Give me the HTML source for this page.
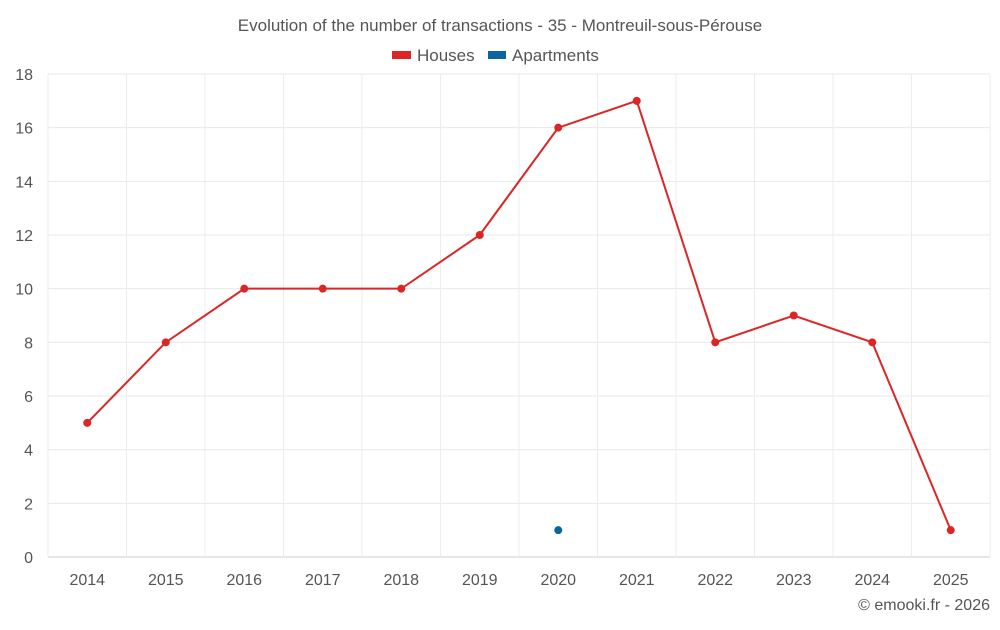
<!DOCTYPE html>
<html><head><meta charset="utf-8"><style>
body{margin:0;background:#fff;font-family:"Liberation Sans",sans-serif}
svg text{font-family:"Liberation Sans",sans-serif}
</style></head><body>
<svg id="c" width="1000" height="625"></svg>
<script>
const categories=["2014","2015","2016","2017","2018","2019","2020","2021","2022","2023","2024","2025"];
const houses=[5,8,10,10,10,12,16,17,8,9,8,1];
const apartments=[null,null,null,null,null,null,1,null,null,null,null,null];
const yTicks=[0,2,4,6,8,10,12,14,16,18];
const NS="http://www.w3.org/2000/svg";
const svg=document.getElementById('c');
const L=48,R=990,T=74,B=557,yMax=18;
const bw=(R-L)/categories.length;
const x=i=>L+bw*(i+0.5);
const y=v=>B-(v/yMax)*(B-T);
function mk(t,a,p){const e=document.createElementNS(NS,t);for(const k in a)e.setAttribute(k,a[k]);(p||svg).appendChild(e);return e;}
const title=mk('text',{x:500,y:31,'text-anchor':'middle','font-size':17,fill:'#555'});title.textContent="Evolution of the number of transactions - 35 - Montreuil-sous-Pérouse";


yTicks.forEach(v=>{
  const g=mk('line',{x1:L,x2:R,y1:y(v),y2:y(v),stroke:v===0?'#ccc':'#e8e8e8','stroke-width':1});
  
  
  const t=mk('text',{x:33,y:y(v)+6,'text-anchor':'end','font-size':16,fill:'#555'});t.textContent=v;
  
  
});
for(let i=0;i<=categories.length;i++){
  const g=mk('line',{x1:L+bw*i,x2:L+bw*i,y1:T,y2:B,stroke:'#ececec','stroke-width':1});
  
  
}
categories.forEach((c,i)=>{
  const t=mk('text',{x:x(i),y:585,'text-anchor':'middle','font-size':16,fill:'#555'});t.textContent=c;
  
  
});
const pl=mk('polyline',{points:houses.map((v,i)=>x(i)+','+y(v)).join(' '),fill:'none',stroke:'#dc2626','stroke-width':2});


houses.forEach((v,i)=>{const p=mk('circle',{cx:x(i),cy:y(v),r:4,fill:'#dc2626'});
  
  });
apartments.forEach((v,i)=>{if(v==null)return;const p=mk('circle',{cx:x(i),cy:y(v),r:4,fill:'#0a64a0'});
  
  });
const lg=mk('g',{});


const e1=mk('g',{},lg);


mk('rect',{x:392,y:51,width:19,height:8,fill:'#dc2626'},e1);
mk('text',{x:417,y:61,'font-size':17,fill:'#555'},e1).textContent="Houses";
const e2=mk('g',{},lg);


mk('rect',{x:488,y:51,width:18,height:8,fill:'#0a64a0'},e2);
mk('text',{x:512,y:61,'font-size':17,fill:'#555'},e2).textContent="Apartments";
const cp=mk('text',{x:990,y:610,'text-anchor':'end','font-size':16,fill:'#555'});cp.textContent="© emooki.fr - 2026";


</script>
</body></html>
